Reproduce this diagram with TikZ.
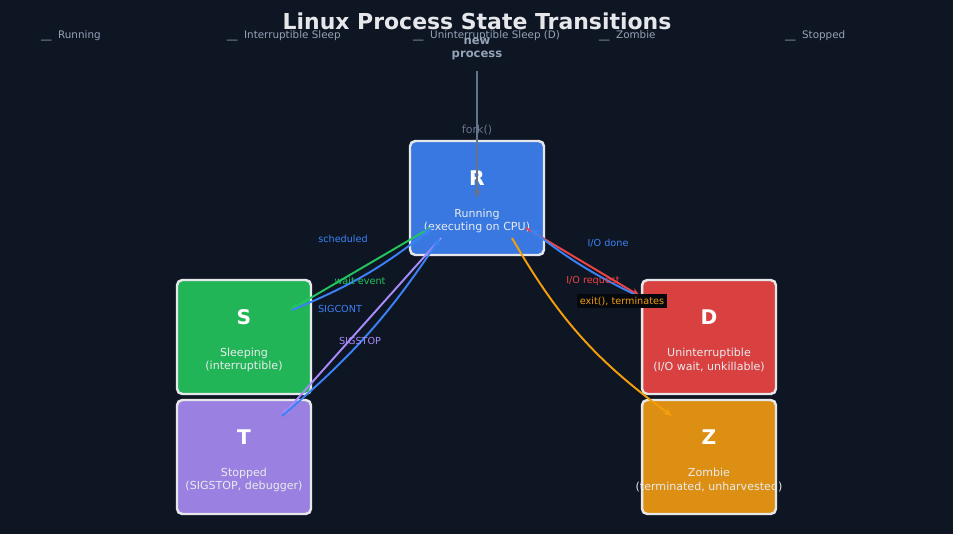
\documentclass[tikz,border=0pt]{standalone}
\usepackage{fontspec}
\setmainfont{DejaVu Sans}
\usetikzlibrary{arrows.meta}
\definecolor{bgdark}{HTML}{0F1623}
\definecolor{edgewhite}{HTML}{E5E7EB}
\definecolor{txtgray}{HTML}{94A3B8}
\definecolor{forkgray}{HTML}{64748B}
\definecolor{runblue}{HTML}{3878E0}
\definecolor{sleepgreen}{HTML}{22B557}
\definecolor{stoppurple}{HTML}{9A80E0}
\definecolor{diskred}{HTML}{D94040}
\definecolor{zombieorange}{HTML}{DC8F12}
\definecolor{arrblue}{HTML}{3B82F6}
\definecolor{arrgreen}{HTML}{22C55E}
\definecolor{arrred}{HTML}{EF4444}
\definecolor{arrpurple}{HTML}{A78BFA}
\definecolor{arrorange}{HTML}{F59E0B}

\begin{document}
\begin{tikzpicture}[x=0.02cm, y=-0.02cm,
    state/.style={draw=edgewhite, line width=1.4pt, rounded corners=3pt, minimum width=2.68cm, minimum height=2.28cm},
    letter/.style={text=white, font=\bfseries\fontsize{11.5}{13}\selectfont},
    desc/.style={text=edgewhite!85, align=center, font=\fontsize{6.3}{7.6}\selectfont},
    lbl/.style={font=\fontsize{5.5}{6.5}\selectfont},
    legend/.style={text=txtgray, anchor=west, font=\fontsize{5.9}{7}\selectfont},
    trans/.style={line width=1.1pt, -{Stealth[length=5pt,width=4pt]}}]
    \fill[bgdark] (0,0) rectangle (953,534);
    \node[text=edgewhite, font=\bfseries\fontsize{12.5}{14}\selectfont] (title) at (477,21) {Linux Process State Transitions};
    \node[legend] (leg1) at (35,36) {\_\_\ \ Running};
    \node[legend] (leg2) at (221,36) {\_\_\ \ Interruptible Sleep};
    \node[legend] (leg3) at (407,36) {\_\_\ \ Uninterruptible Sleep (D)};
    \node[legend] (leg4) at (593,36) {\_\_\ \ Zombie};
    \node[legend] (leg5) at (779,36) {\_\_\ \ Stopped};
    % states
    \node[state, fill=runblue] (R) at (477,198) {};
    \node[state, fill=sleepgreen] (S) at (244,337) {};
    \node[state, fill=stoppurple] (T) at (244,457) {};
    \node[state, fill=diskred] (D) at (709,337) {};
    \node[state, fill=zombieorange] (Z) at (709,457) {};
    \node[letter] (Rl) at (477,178) {R};
    \node[desc] (Rd) at (477,221) {Running\\(executing on CPU)};
    \node[letter] (Sl) at (244,317) {S};
    \node[desc] (Sd) at (244,360) {Sleeping\\(interruptible)};
    \node[letter] (Tl) at (244,437) {T};
    \node[desc] (Td) at (244,480) {Stopped\\(SIGSTOP, debugger)};
    \node[letter] (Dl) at (709,317) {D};
    \node[desc] (Dd) at (709,360) {Uninterruptible\\(I/O wait, unkillable)};
    \node[letter] (Zl) at (709,437) {Z};
    \node[desc] (Zd) at (709,480) {Zombie\\(terminated, unharvested)};
    % new process
    \node[text=txtgray, align=center, font=\bfseries\fontsize{6.6}{7.8}\selectfont] (new) at (477,49) {new\\process};
    \coordinate (forkend) at (477,198);
    \draw[trans, draw=forkgray] (new.south) ++(0,4) -- (forkend);
    \node[text=forkgray, font=\fontsize{6.3}{7}\selectfont] (forklbl) at (477,130) {fork()};
    % transition ends
    \coordinate (rs1) at (430,228); \coordinate (rs2) at (290,310);
    \coordinate (sr1) at (292,310); \coordinate (sr2) at (432,228);
    \coordinate (rt1) at (441,238); \coordinate (rt2) at (282,416);
    \coordinate (tr1) at (282,416); \coordinate (tr2) at (440,238);
    \coordinate (rd1) at (526,228); \coordinate (rd2) at (640,296);
    \coordinate (dr1) at (640,297); \coordinate (dr2) at (530,229);
    \coordinate (rz1) at (512,238); \coordinate (rz2) at (672,416);
    \draw[trans, arrgreen] (rs1) -- (rs2);
    \draw[trans, arrblue] (sr1) to[bend right=8] (sr2);
    \draw[trans, arrpurple] (rt1) -- (rt2);
    \draw[trans, arrblue] (tr1) to[bend right=8] (tr2);
    \draw[trans, arrred] (rd1) -- (rd2);
    \draw[trans, arrblue] (dr1) to[bend left=6] (dr2);
    \draw[trans, arrorange] (rz1) to[bend right=12] (rz2);
    % labels
    \node[lbl, text=arrblue] (l1) at (343,239) {scheduled};
    \node[lbl, text=arrgreen] (l2) at (360,281) {wait event};
    \node[lbl, text=arrblue] (l3) at (340,309) {SIGCONT};
    \node[lbl, text=arrpurple] (l4) at (360,341) {SIGSTOP};
    \node[lbl, text=arrblue] (l5) at (608,243) {I/O done};
    \node[lbl, text=arrred] (l6) at (593,281) {I/O request};
    \node[lbl, text=arrorange, fill=black!65!bgdark, inner sep=1.5pt] (l7) at (622,301) {exit(), terminates};
\end{tikzpicture}
\end{document}
